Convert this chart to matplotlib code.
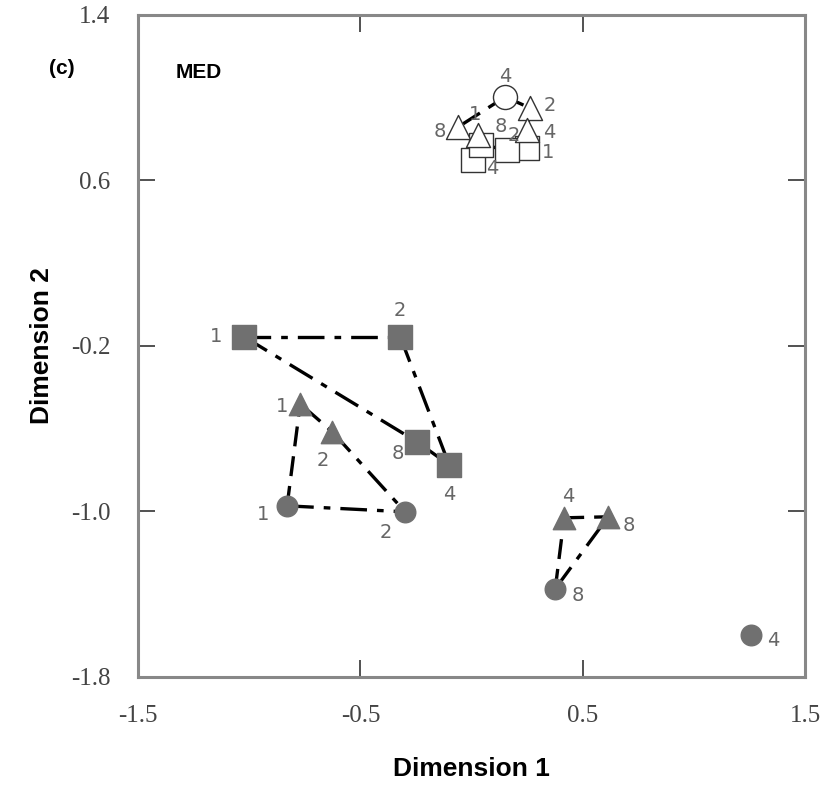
import matplotlib
matplotlib.use("Agg")
import matplotlib.pyplot as plt

# ---- data (Dimension 1, Dimension 2) ----
fsq_lab = ["1", "2", "8", "4"]
fsq_x = [-1.023, -0.321, -0.245, -0.101]
fsq_y = [-0.156, -0.156, -0.664, -0.775]

ftri_lab = ["1", "2", "4", "8"]
ftri_x = [-0.771, -0.627, 0.416, 0.614]
ftri_y = [-0.480, -0.615, -1.031, -1.026]

fcir_lab = ["1", "2", "8", "4"]
fcir_x = [-0.830, -0.299, 0.376, 1.258]
fcir_y = [-0.973, -1.002, -1.374, -1.597]

osq_lab = ["1", "4", "8", "2"]
osq_x = [0.250, 0.007, 0.043, 0.160]
osq_y = [0.757, 0.699, 0.772, 0.748]

otri_lab = ["8", "2", "4", "1"]
otri_x = [-0.060, 0.263, 0.250, 0.029]
otri_y = [0.859, 0.950, 0.844, 0.820]

ocir_lab = ["4"]
ocir_x = [0.151]
ocir_y = [1.004]

xticks = [-1.5, -0.5, 0.5, 1.5]
yticks = [-1.8, -1.0, -0.2, 0.6, 1.4]

fig = plt.figure(figsize=(8.37, 7.88), dpi=100)
ax = fig.add_axes([0.165, 0.141, 0.797, 0.840])

DD = (0, (8, 3, 2, 3))   # dash-dot
DA = (0, (6, 3))         # dashed
lw = 2.4

def seg(x1, y1, x2, y2, ls):
    ax.plot([x1, x2], [y1, y2], color="black", lw=lw, linestyle=ls, zorder=1)

# filled squares polygon 1-2-4-8-1
seg(fsq_x[0], fsq_y[0], fsq_x[1], fsq_y[1], DD)
seg(fsq_x[1], fsq_y[1], fsq_x[3], fsq_y[3], DD)
seg(fsq_x[0], fsq_y[0], fsq_x[2], fsq_y[2], DD)
seg(fsq_x[2], fsq_y[2], fsq_x[3], fsq_y[3], "-")
# circles / triangles lower-left
seg(fcir_x[0], fcir_y[0], ftri_x[0], ftri_y[0], DA)
seg(ftri_x[0], ftri_y[0], ftri_x[1], ftri_y[1], DD)
seg(ftri_x[1], ftri_y[1], fcir_x[1], fcir_y[1], DD)
seg(fcir_x[0], fcir_y[0], fcir_x[1], fcir_y[1], DD)
# right cluster
seg(fcir_x[2], fcir_y[2], ftri_x[2], ftri_y[2], DA)
seg(fcir_x[2], fcir_y[2], ftri_x[3], ftri_y[3], DD)
seg(ftri_x[2], ftri_y[2], ftri_x[3], ftri_y[3], DA)
# top cluster
seg(ocir_x[0], ocir_y[0], otri_x[0], otri_y[0], DA)
seg(ocir_x[0], ocir_y[0], otri_x[1], otri_y[1], DA)
seg(otri_x[1], otri_y[1], otri_x[2], otri_y[2], "-")
seg(otri_x[2], otri_y[2], osq_x[0], osq_y[0], DA)
seg(otri_x[3], otri_y[3], osq_x[2], osq_y[2], DA)
seg(osq_x[2], osq_y[2], osq_x[3], osq_y[3], DA)

fc = "#707070"
ax.scatter(fsq_x, fsq_y, marker="s", s=300, c=fc, edgecolors=fc, zorder=3)
ax.scatter(ftri_x, ftri_y, marker="^", s=260, c=fc, edgecolors=fc, zorder=3)
ax.scatter(fcir_x, fcir_y, marker="o", s=220, c=fc, edgecolors=fc, zorder=3)
ax.scatter(osq_x, osq_y, marker="s", s=300, facecolors="white", edgecolors="#333333", linewidths=1.0, zorder=3)
ax.scatter(otri_x, otri_y, marker="^", s=300, facecolors="white", edgecolors="#333333", linewidths=1.0, zorder=3)
ax.scatter(ocir_x, ocir_y, marker="o", s=300, facecolors="white", edgecolors="#333333", linewidths=1.0, zorder=3)

lab_kw = dict(textcoords="offset points", fontsize=14, color="#666666",
              family="DejaVu Sans", ha="center", va="center", zorder=4)

def labels(xs, ys, labs, offs):
    for x, y, t, o in zip(xs, ys, labs, offs):
        ax.annotate(t, (x, y), xytext=o, **lab_kw)

labels(fsq_x, fsq_y, fsq_lab, [(-20, 0), (0, 19), (-14, -8), (0, -21)])
labels(ftri_x, ftri_y, ftri_lab, [(-13, -2), (-7, -21), (3, 15), (15, -6)])
labels(fcir_x, fcir_y, fcir_lab, [(-17, -6), (-14, -15), (16, -5), (16, -4)])
labels(osq_x, osq_y, osq_lab, [(15, -3), (14, -6), (14, 13), (5, 10)])
labels(otri_x, otri_y, otri_lab, [(-13, -3), (14, 2), (16, -2), (-2, 15)])
labels(ocir_x, ocir_y, ocir_lab, [(0, 15)])

ax.set_xlim(-1.5, 1.5)
ax.set_ylim(-1.8, 1.4)
ax.set_xticks(xticks)
ax.set_yticks(yticks)
ax.set_xticklabels([f"{v:g}" for v in xticks])
ax.set_yticklabels([f"{v:.1f}" for v in yticks])
ax.tick_params(direction="in", length=12, width=1.2, color="#333333",
               top=True, right=True, labelsize=18, labelcolor="#444444")
ax.tick_params(axis="x", pad=20)
ax.tick_params(axis="y", pad=20)
for lab in ax.get_xticklabels() + ax.get_yticklabels():
    lab.set_family("Liberation Serif")
for sp in ax.spines.values():
    sp.set_color("#888888")
    sp.set_linewidth(2.2)

ax.set_xlabel("Dimension 1", fontsize=19, fontweight="bold", family="Liberation Sans", labelpad=22)
ax.set_ylabel("Dimension 2", fontsize=19, fontweight="bold", family="Liberation Sans", labelpad=12)

fig.text(62 / 837, 1 - 69 / 788, "(c)", fontsize=15, fontweight="bold",
         family="Liberation Sans", ha="center", va="center")
fig.text(199 / 837, 1 - 73 / 788, "MED", fontsize=15, fontweight="bold",
         family="Liberation Sans", ha="center", va="center")

fig.savefig("out.png", dpi=100)
